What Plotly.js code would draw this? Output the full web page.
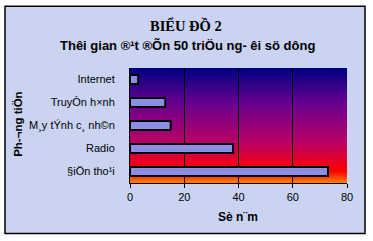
<!DOCTYPE html>
<html>
<head>
<meta charset="utf-8">
<script src="https://cdn.plot.ly/plotly-3.0.1.min.js"></script>
<style>
html,body{margin:0;padding:0;background:#fff;}
#chart{width:373px;height:241px;}
</style>
</head>
<body>
<div id="chart"></div>
<script>
// Data (categories from bottom to top)
var categories = ["§iÖn tho¹i", "Radio", "M¸y tÝnh c¸ nh©n", "TruyÒn h×nh", "Internet"];
var years = [73, 38, 15, 13, 3];
var xTickVals = [0, 20, 40, 60, 80];

var titleLine1 = "BIỂU ĐỒ 2";
var titleLine2 = "Thêi gian ®¹t ®Õn 50 triÖu ng- êi sö dông";
var xTitle = "Sè n¨m";
var yTitle = "Ph-¬ng tiÖn";

// plot-area pixel geometry (for placing decorations in paper coords)
var PL = 130, PW = 217, PB = 183.3, PH = 115.3;
function px(x){ return (x-PL)/PW; }
function py(y){ return (PB-y)/PH; }

// Gradient background of plot area (Early Sunset-like)
var stops = [[0, [0,0,130]], [0.30, [102,0,143]], [0.65, [186,0,102]], [0.90, [255,0,0]], [1, [255,130,0]]];
function colAt(t){
  for (var i=0;i<stops.length-1;i++){
    var a=stops[i], b=stops[i+1];
    if (t>=a[0] && t<=b[0]){
      var f=(t-a[0])/(b[0]-a[0]);
      var c=a[1].map(function(v,k){return Math.round(v+(b[1][k]-v)*f);});
      return 'rgb('+c.join(',')+')';
    }
  }
  return 'rgb(255,130,0)';
}
var shapes = [];
shapes.push({type:'rect', xref:'paper', yref:'paper', layer:'below',
  x0:px(5), x1:px(365), y0:py(234), y1:py(6),
  fillcolor:'#cad3f1', line:{color:'#000', width:1.5}});
var N = 116;
for (var i=0;i<N;i++){
  var t0=i/N;
  shapes.push({type:'rect', xref:'paper', yref:'paper', layer:'below',
    x0:0, x1:1, y0:0, y1:1-t0,
    fillcolor:colAt(t0+0.5/N), line:{width:0}});
}

var trace = {
  type:'bar', orientation:'h',
  y: categories, x: years,
  marker:{color:'#8c8ee6', line:{color:'#000', width:2}},
  hoverinfo:'none'
};

var layout = {
  width:373, height:241,
  margin:{l:130, r:26, t:68, b:58, pad:0},
  paper_bgcolor:'#ffffff',
  plot_bgcolor:'rgba(0,0,0,0)',
  font:{family:'"Liberation Sans", Arial, sans-serif', size:11, color:'#000'},
  showlegend:false,
  bargap:0.6,
  xaxis:{range:[0,80], tickvals:xTickVals, ticks:'outside', ticklen:4, tickcolor:'#000',
    showgrid:true, gridcolor:'#000', gridwidth:1, zeroline:false,
    showline:true, linecolor:'#000', linewidth:1,
    tickfont:{size:11}},
  yaxis:{showgrid:false, zeroline:false, showline:true, linecolor:'#000', linewidth:1,
    ticks:'outside', ticklen:0, ticklabelstandoff:12, tickfont:{size:11}},
  shapes: shapes,
  annotations:[
    {text:'<b>'+titleLine1+'</b>', xref:'paper', yref:'paper', x:px(186), y:py(25),
     xanchor:'center', yanchor:'middle',
     showarrow:false, font:{family:'"Liberation Serif", "Times New Roman", serif', size:14.5}},
    {text:'<b>'+titleLine2+'</b>', xref:'paper', yref:'paper', x:px(187), y:py(45),
     xanchor:'center', yanchor:'middle',
     showarrow:false, font:{size:13}},
    {text:'<b>'+xTitle+'</b>', xref:'paper', yref:'paper', x:px(238), y:py(217),
     xanchor:'center', yanchor:'middle', showarrow:false, font:{size:12}},
    {text:'<b>'+yTitle+'</b>', xref:'paper', yref:'paper', x:px(18), y:py(125),
     xanchor:'center', yanchor:'middle', textangle:-90, showarrow:false, font:{size:11.5}}
  ]
};
Plotly.newPlot('chart',[trace],layout,{displayModeBar:false, staticPlot:true});
</script>
</body>
</html>
